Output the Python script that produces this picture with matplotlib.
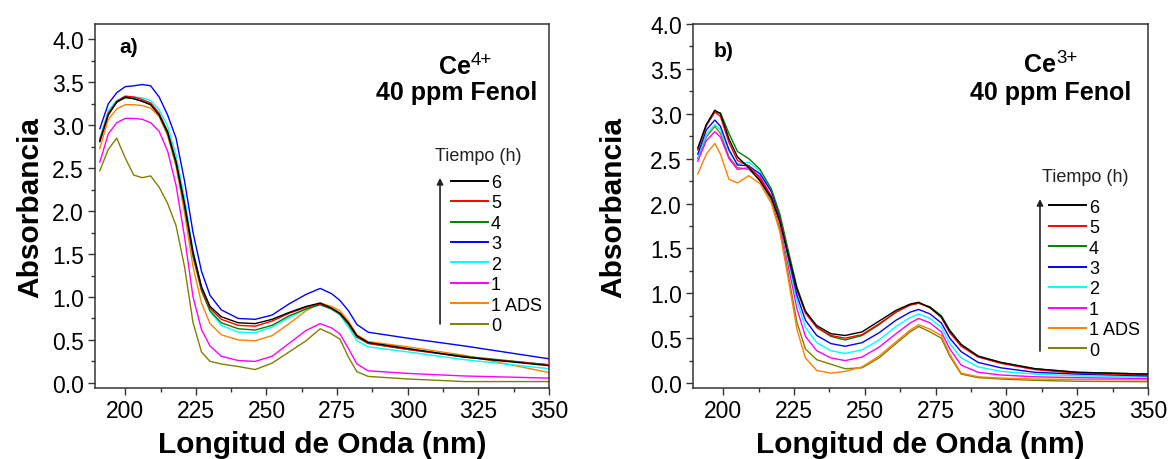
import matplotlib
matplotlib.use('Agg')
import matplotlib.pyplot as plt
from matplotlib.ticker import MultipleLocator, FormatStrFormatter

plt.rcParams['font.family'] = ['Liberation Sans', 'DejaVu Sans']

# ---------------- data ----------------
series_labels = ['6', '5', '4', '3', '2', '1', '1 ADS', '0']
series_colors = ['#000000', '#FF0000', '#008000', '#0000FF', '#00FFFF', '#FF00FF', '#FF8000', '#808000']

# Panel a) Ce4+
wl_a = [191, 194, 197, 200, 203, 206, 209, 212, 215, 218, 221, 224, 227, 230, 234,
        240, 246, 252, 258, 264, 269, 273, 276, 279, 282, 286, 300, 320, 350]
a_6 = [2.81, 3.12, 3.27, 3.33, 3.31, 3.28, 3.24, 3.12, 2.92, 2.57, 2.08, 1.52, 1.12, 0.89, 0.77,
       0.70, 0.69, 0.74, 0.82, 0.89, 0.93, 0.87, 0.81, 0.70, 0.55, 0.47, 0.40, 0.30, 0.20]
a_5 = [2.82, 3.14, 3.28, 3.34, 3.33, 3.30, 3.26, 3.14, 2.93, 2.58, 2.08, 1.50, 1.10, 0.87, 0.74,
       0.67, 0.66, 0.72, 0.81, 0.88, 0.92, 0.87, 0.81, 0.69, 0.54, 0.46, 0.39, 0.30, 0.21]
a_4 = [2.83, 3.13, 3.27, 3.32, 3.31, 3.28, 3.24, 3.12, 2.90, 2.55, 2.05, 1.47, 1.07, 0.84, 0.70,
       0.63, 0.615, 0.67, 0.78, 0.86, 0.91, 0.86, 0.80, 0.68, 0.53, 0.46, 0.39, 0.31, 0.21]
a_3 = [2.96, 3.25, 3.38, 3.45, 3.46, 3.475, 3.46, 3.33, 3.12, 2.85, 2.35, 1.75, 1.30, 1.02, 0.85,
       0.75, 0.74, 0.79, 0.92, 1.03, 1.10, 1.04, 0.96, 0.84, 0.68, 0.59, 0.52, 0.43, 0.28]
a_2 = [2.85, 3.17, 3.29, 3.33, 3.33, 3.32, 3.29, 3.18, 2.99, 2.65, 2.15, 1.55, 1.10, 0.83, 0.67,
       0.59, 0.585, 0.65, 0.76, 0.86, 0.91, 0.86, 0.79, 0.65, 0.49, 0.42, 0.36, 0.27, 0.165]
a_1 = [2.57, 2.90, 3.03, 3.08, 3.08, 3.07, 3.03, 2.93, 2.70, 2.30, 1.70, 1.00, 0.62, 0.43, 0.31,
       0.26, 0.25, 0.31, 0.46, 0.61, 0.69, 0.64, 0.57, 0.40, 0.22, 0.14, 0.11, 0.08, 0.055]
a_1ads = [2.73, 3.07, 3.19, 3.24, 3.24, 3.23, 3.20, 3.10, 2.88, 2.52, 1.98, 1.35, 0.93, 0.69, 0.56,
          0.50, 0.49, 0.55, 0.69, 0.84, 0.93, 0.89, 0.84, 0.72, 0.56, 0.48, 0.42, 0.32, 0.12]
a_0 = [2.47, 2.72, 2.85, 2.62, 2.42, 2.39, 2.41, 2.28, 2.09, 1.83, 1.35, 0.70, 0.36, 0.25, 0.22,
       0.19, 0.155, 0.23, 0.36, 0.49, 0.63, 0.57, 0.51, 0.30, 0.13, 0.075, 0.045, 0.015, 0.015]

# Panel b) Ce3+
wl_b = [191, 194, 197, 199, 202, 205, 209, 213, 217, 220, 223, 226, 229, 233, 238,
        243, 249, 255, 261, 266, 269, 273, 277, 280, 284, 290, 298, 310, 325, 350]
b_6 = [2.62, 2.88, 3.04, 3.00, 2.72, 2.52, 2.40, 2.25, 2.06, 1.80, 1.42, 1.05, 0.80, 0.64, 0.55,
       0.53, 0.57, 0.69, 0.81, 0.88, 0.90, 0.84, 0.74, 0.58, 0.43, 0.30, 0.23, 0.16, 0.12, 0.10]
b_5 = [2.60, 2.87, 3.02, 2.97, 2.68, 2.48, 2.42, 2.28, 2.08, 1.82, 1.42, 1.04, 0.78, 0.62, 0.53,
       0.50, 0.54, 0.66, 0.79, 0.87, 0.89, 0.84, 0.73, 0.56, 0.41, 0.29, 0.22, 0.15, 0.11, 0.09]
b_4 = [2.60, 2.87, 3.02, 3.01, 2.78, 2.58, 2.50, 2.38, 2.16, 1.88, 1.47, 1.07, 0.80, 0.62, 0.52,
       0.48, 0.53, 0.65, 0.79, 0.87, 0.89, 0.85, 0.75, 0.59, 0.43, 0.30, 0.23, 0.16, 0.12, 0.10]
b_3 = [2.55, 2.82, 2.93, 2.86, 2.60, 2.43, 2.42, 2.33, 2.13, 1.84, 1.40, 0.98, 0.70, 0.53, 0.44,
       0.41, 0.45, 0.56, 0.70, 0.79, 0.82, 0.77, 0.67, 0.50, 0.35, 0.23, 0.17, 0.12, 0.10, 0.08]
b_2 = [2.52, 2.77, 2.88, 2.82, 2.58, 2.44, 2.46, 2.36, 2.14, 1.83, 1.36, 0.92, 0.62, 0.45, 0.36,
       0.33, 0.37, 0.48, 0.63, 0.73, 0.77, 0.72, 0.62, 0.44, 0.28, 0.18, 0.13, 0.10, 0.08, 0.07]
b_1 = [2.47, 2.70, 2.80, 2.74, 2.50, 2.38, 2.40, 2.30, 2.08, 1.78, 1.30, 0.83, 0.52, 0.36, 0.28,
       0.25, 0.29, 0.40, 0.55, 0.67, 0.72, 0.67, 0.57, 0.38, 0.20, 0.12, 0.09, 0.07, 0.06, 0.05]
b_1ads = [2.33, 2.55, 2.67, 2.55, 2.27, 2.23, 2.31, 2.22, 2.00, 1.68, 1.15, 0.60, 0.28, 0.14, 0.11,
          0.13, 0.18, 0.30, 0.46, 0.59, 0.65, 0.60, 0.53, 0.32, 0.11, 0.07, 0.055, 0.045, 0.04, 0.035]
b_0 = [2.50, 2.74, 2.86, 2.78, 2.52, 2.40, 2.38, 2.26, 2.03, 1.72, 1.20, 0.68, 0.38, 0.26, 0.21,
       0.16, 0.17, 0.28, 0.44, 0.57, 0.63, 0.57, 0.50, 0.30, 0.10, 0.06, 0.045, 0.03, 0.02, 0.015]

x_ticks = [200, 225, 250, 275, 300, 325, 350]

panels = [
    dict(wl=wl_a, ys=[a_6, a_5, a_4, a_3, a_2, a_1, a_1ads, a_0], tag='a)',
         charge='4+', ylim=(-0.06, 4.18),
         rect=[95 / 1172, 1 - 389 / 460, 454 / 1172, 364 / 460],
         tagpos=(0.075, 0.937), cepos=(0.828, 0.885), fenolpos=(0.797, 0.813),
         leg_anchor=(0.784, 0.588), title_pos=(0.8436, 0.640),
         arrow=(0.760, 0.176, 0.577), ylab_x=-0.112),
    dict(wl=wl_b, ys=[b_6, b_5, b_4, b_3, b_2, b_1, b_1ads, b_0], tag='b)',
         charge='3+', ylim=(-0.055, 4.0),
         rect=[693 / 1172, 1 - 389 / 460, 455 / 1172, 364 / 460],
         tagpos=(0.068, 0.926), cepos=(0.798, 0.890), fenolpos=(0.787, 0.813),
         leg_anchor=(0.7824, 0.520), title_pos=(0.8615, 0.5797),
         arrow=(0.7626, 0.1016, 0.519), ylab_x=-0.144),
]

fig = plt.figure(figsize=(11.72, 4.6), dpi=100)

for p in panels:
    ax = fig.add_axes(p['rect'])
    handles = []
    for lab, col, y in zip(series_labels, series_colors, p['ys']):
        h, = ax.plot(p['wl'], y, color=col, lw=1.0, label=lab)
        handles.append(h)
    # draw order: 0 at bottom ... 6 on top
    for z, h in enumerate(reversed(handles)):
        h.set_zorder(2 + z * 0.1)

    ax.set_xlim(189.3, 350)
    ax.set_ylim(*p['ylim'])
    ax.set_xticks(x_ticks)
    ax.xaxis.set_minor_locator(MultipleLocator(12.5))
    ax.yaxis.set_major_locator(MultipleLocator(0.5))
    ax.yaxis.set_minor_locator(MultipleLocator(0.25))
    ax.yaxis.set_major_formatter(FormatStrFormatter('%.1f'))
    ax.tick_params(which='major', direction='out', length=5, width=1.0,
                   labelsize=16.5, pad=3, color='#333333')
    ax.tick_params(which='minor', direction='out', length=3, width=1.0, color='#333333')
    for s in ax.spines.values():
        s.set_linewidth(1.1)
        s.set_color('#333333')

    ax.set_xlabel('Longitud de Onda (nm)', fontsize=21.5, fontweight='bold')
    ax.set_ylabel('Absorbancia', fontsize=21.5, fontweight='bold')
    ax.xaxis.set_label_coords(0.5, -0.115)
    ax.yaxis.set_label_coords(p['ylab_x'], 0.5)

    ax.text(*p['tagpos'], p['tag'], transform=ax.transAxes, fontsize=15,
            fontweight='bold', ha='center', va='center')
    ce = ax.text(*p['cepos'], 'Ce', transform=ax.transAxes, fontsize=18,
                 fontweight='bold', ha='right', va='center')
    ax.annotate(p['charge'], xy=(1.0, 0.42), xycoords=ce, fontsize=13.5,
                ha='left', va='bottom')
    ax.text(*p['fenolpos'], '40 ppm Fenol', transform=ax.transAxes, fontsize=18,
            fontweight='bold', ha='center', va='center')

    leg = ax.legend(handles=handles, loc='upper left', bbox_to_anchor=p['leg_anchor'],
                    frameon=False, fontsize=13, handlelength=2.05, handletextpad=0.17,
                    labelspacing=0.19, borderpad=0, borderaxespad=0)
    for line in leg.get_lines():
        line.set_linewidth(1.4)
    ax.text(*p['title_pos'], 'Tiempo (h)', transform=ax.transAxes, fontsize=13,
            ha='center', va='center', color='#222222')
    ax_x, ay0, ay1 = p['arrow']
    ax.annotate('', xy=(ax_x, ay1), xytext=(ax_x, ay0), xycoords='axes fraction',
                textcoords='axes fraction',
                arrowprops=dict(arrowstyle='-|>', lw=1.2, color='#222222',
                                mutation_scale=9, shrinkA=0, shrinkB=0))

fig.savefig('out.png', dpi=100)
